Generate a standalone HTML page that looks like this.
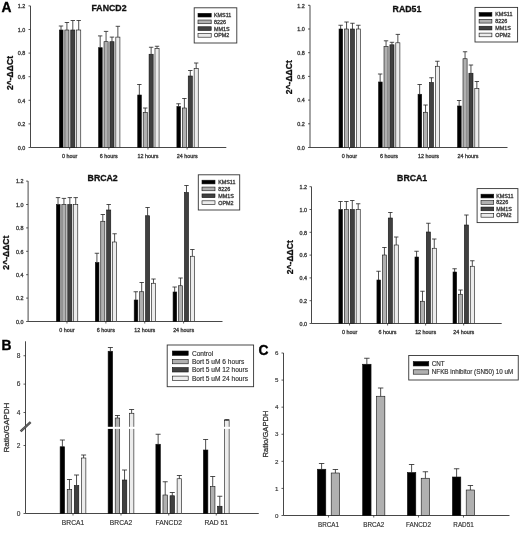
<!DOCTYPE html>
<html><head><meta charset="utf-8"><style>
html,body{margin:0;padding:0;background:#fff;}
svg{display:block;font-family:"Liberation Sans", sans-serif;will-change:transform;}
</style></head><body>
<svg width="520" height="552" viewBox="0 0 520 552">
<rect width="520" height="552" fill="#fff"/>
<line x1="30.50" y1="5.90" x2="30.50" y2="147.50" stroke="#333" stroke-width="0.9"/>
<line x1="30.50" y1="147.50" x2="226.30" y2="147.50" stroke="#333" stroke-width="0.9"/>
<line x1="28.50" y1="147.50" x2="30.50" y2="147.50" stroke="#333" stroke-width="0.8"/>
<text x="25.3" y="149.8" font-size="5.4" text-anchor="end" fill="#222" stroke="#444" stroke-width="0.32">0.0</text>
<line x1="28.50" y1="123.90" x2="30.50" y2="123.90" stroke="#333" stroke-width="0.8"/>
<text x="25.3" y="126.2" font-size="5.4" text-anchor="end" fill="#222" stroke="#444" stroke-width="0.32">0.2</text>
<line x1="28.50" y1="100.30" x2="30.50" y2="100.30" stroke="#333" stroke-width="0.8"/>
<text x="25.3" y="102.6" font-size="5.4" text-anchor="end" fill="#222" stroke="#444" stroke-width="0.32">0.4</text>
<line x1="28.50" y1="76.70" x2="30.50" y2="76.70" stroke="#333" stroke-width="0.8"/>
<text x="25.3" y="79.0" font-size="5.4" text-anchor="end" fill="#222" stroke="#444" stroke-width="0.32">0.6</text>
<line x1="28.50" y1="53.10" x2="30.50" y2="53.10" stroke="#333" stroke-width="0.8"/>
<text x="25.3" y="55.4" font-size="5.4" text-anchor="end" fill="#222" stroke="#444" stroke-width="0.32">0.8</text>
<line x1="28.50" y1="29.50" x2="30.50" y2="29.50" stroke="#333" stroke-width="0.8"/>
<text x="25.3" y="31.8" font-size="5.4" text-anchor="end" fill="#222" stroke="#444" stroke-width="0.32">1.0</text>
<line x1="28.50" y1="5.90" x2="30.50" y2="5.90" stroke="#333" stroke-width="0.8"/>
<text x="25.3" y="8.2" font-size="5.4" text-anchor="end" fill="#222" stroke="#444" stroke-width="0.32">1.2</text>
<line x1="69.66" y1="147.50" x2="69.66" y2="149.50" stroke="#333" stroke-width="0.8"/>
<text x="69.66" y="157.8" font-size="5.4" text-anchor="middle" fill="#222" stroke="#444" stroke-width="0.32">0 hour</text>
<rect x="59.41" y="30.00" width="3.65" height="117.50" fill="#000000" stroke="#111" stroke-width="0.6"/>
<rect x="64.86" y="30.00" width="4.10" height="117.50" fill="#b0b0b0" stroke="#111" stroke-width="0.6"/>
<rect x="70.76" y="30.00" width="4.10" height="117.50" fill="#404040" stroke="#111" stroke-width="0.6"/>
<rect x="76.66" y="30.00" width="4.10" height="117.50" fill="#ececec" stroke="#111" stroke-width="0.6"/>
<line x1="61.01" y1="30.00" x2="61.01" y2="26.00" stroke="#222" stroke-width="0.8"/>
<line x1="58.81" y1="26.00" x2="63.21" y2="26.00" stroke="#222" stroke-width="0.8"/>
<line x1="66.91" y1="30.00" x2="66.91" y2="22.50" stroke="#222" stroke-width="0.8"/>
<line x1="64.71" y1="22.50" x2="69.11" y2="22.50" stroke="#222" stroke-width="0.8"/>
<line x1="72.81" y1="30.00" x2="72.81" y2="20.50" stroke="#222" stroke-width="0.8"/>
<line x1="70.61" y1="20.50" x2="75.01" y2="20.50" stroke="#222" stroke-width="0.8"/>
<line x1="78.71" y1="30.00" x2="78.71" y2="20.50" stroke="#222" stroke-width="0.8"/>
<line x1="76.51" y1="20.50" x2="80.91" y2="20.50" stroke="#222" stroke-width="0.8"/>
<line x1="108.82" y1="147.50" x2="108.82" y2="149.50" stroke="#333" stroke-width="0.8"/>
<text x="108.82" y="157.8" font-size="5.4" text-anchor="middle" fill="#222" stroke="#444" stroke-width="0.32">6 hours</text>
<rect x="98.57" y="47.70" width="3.65" height="99.80" fill="#000000" stroke="#111" stroke-width="0.6"/>
<rect x="104.02" y="41.70" width="4.10" height="105.80" fill="#b0b0b0" stroke="#111" stroke-width="0.6"/>
<rect x="109.92" y="41.70" width="4.10" height="105.80" fill="#404040" stroke="#111" stroke-width="0.6"/>
<rect x="115.82" y="37.10" width="4.10" height="110.40" fill="#ececec" stroke="#111" stroke-width="0.6"/>
<line x1="100.17" y1="47.70" x2="100.17" y2="35.90" stroke="#222" stroke-width="0.8"/>
<line x1="97.97" y1="35.90" x2="102.37" y2="35.90" stroke="#222" stroke-width="0.8"/>
<line x1="106.07" y1="41.70" x2="106.07" y2="31.40" stroke="#222" stroke-width="0.8"/>
<line x1="103.87" y1="31.40" x2="108.27" y2="31.40" stroke="#222" stroke-width="0.8"/>
<line x1="111.97" y1="41.70" x2="111.97" y2="37.10" stroke="#222" stroke-width="0.8"/>
<line x1="109.77" y1="37.10" x2="114.17" y2="37.10" stroke="#222" stroke-width="0.8"/>
<line x1="117.87" y1="37.10" x2="117.87" y2="26.30" stroke="#222" stroke-width="0.8"/>
<line x1="115.67" y1="26.30" x2="120.07" y2="26.30" stroke="#222" stroke-width="0.8"/>
<line x1="147.98" y1="147.50" x2="147.98" y2="149.50" stroke="#333" stroke-width="0.8"/>
<text x="147.98" y="157.8" font-size="5.4" text-anchor="middle" fill="#222" stroke="#444" stroke-width="0.32">12 hours</text>
<rect x="137.73" y="95.00" width="3.65" height="52.50" fill="#000000" stroke="#111" stroke-width="0.6"/>
<rect x="143.18" y="112.50" width="4.10" height="35.00" fill="#b0b0b0" stroke="#111" stroke-width="0.6"/>
<rect x="149.08" y="54.25" width="4.10" height="93.25" fill="#404040" stroke="#111" stroke-width="0.6"/>
<rect x="154.98" y="48.50" width="4.10" height="99.00" fill="#ececec" stroke="#111" stroke-width="0.6"/>
<line x1="139.33" y1="95.00" x2="139.33" y2="84.50" stroke="#222" stroke-width="0.8"/>
<line x1="137.13" y1="84.50" x2="141.53" y2="84.50" stroke="#222" stroke-width="0.8"/>
<line x1="145.23" y1="112.50" x2="145.23" y2="108.00" stroke="#222" stroke-width="0.8"/>
<line x1="143.03" y1="108.00" x2="147.43" y2="108.00" stroke="#222" stroke-width="0.8"/>
<line x1="151.13" y1="54.25" x2="151.13" y2="47.25" stroke="#222" stroke-width="0.8"/>
<line x1="148.93" y1="47.25" x2="153.33" y2="47.25" stroke="#222" stroke-width="0.8"/>
<line x1="157.03" y1="48.50" x2="157.03" y2="46.25" stroke="#222" stroke-width="0.8"/>
<line x1="154.83" y1="46.25" x2="159.23" y2="46.25" stroke="#222" stroke-width="0.8"/>
<line x1="187.14" y1="147.50" x2="187.14" y2="149.50" stroke="#333" stroke-width="0.8"/>
<text x="187.14" y="157.8" font-size="5.4" text-anchor="middle" fill="#222" stroke="#444" stroke-width="0.32">24 hours</text>
<rect x="176.89" y="106.50" width="3.65" height="41.00" fill="#000000" stroke="#111" stroke-width="0.6"/>
<rect x="182.34" y="108.00" width="4.10" height="39.50" fill="#b0b0b0" stroke="#111" stroke-width="0.6"/>
<rect x="188.24" y="76.00" width="4.10" height="71.50" fill="#404040" stroke="#111" stroke-width="0.6"/>
<rect x="194.14" y="68.50" width="4.10" height="79.00" fill="#ececec" stroke="#111" stroke-width="0.6"/>
<line x1="178.49" y1="106.50" x2="178.49" y2="103.75" stroke="#222" stroke-width="0.8"/>
<line x1="176.29" y1="103.75" x2="180.69" y2="103.75" stroke="#222" stroke-width="0.8"/>
<line x1="184.39" y1="108.00" x2="184.39" y2="98.50" stroke="#222" stroke-width="0.8"/>
<line x1="182.19" y1="98.50" x2="186.59" y2="98.50" stroke="#222" stroke-width="0.8"/>
<line x1="190.29" y1="76.00" x2="190.29" y2="70.50" stroke="#222" stroke-width="0.8"/>
<line x1="188.09" y1="70.50" x2="192.49" y2="70.50" stroke="#222" stroke-width="0.8"/>
<line x1="196.19" y1="68.50" x2="196.19" y2="63.00" stroke="#222" stroke-width="0.8"/>
<line x1="193.99" y1="63.00" x2="198.39" y2="63.00" stroke="#222" stroke-width="0.8"/>
<text x="91.5" y="11.1" font-size="8.75" text-anchor="start" font-weight="bold" fill="#111" stroke="#111" stroke-width="0.3">FANCD2</text>
<rect x="194.2" y="7.8" width="42.6" height="35.2" fill="#fff" stroke="#333" stroke-width="0.9"/>
<rect x="198.00" y="13.30" width="13.20" height="3.70" fill="#000000" stroke="#111" stroke-width="0.6"/>
<text x="214.0" y="17.1" font-size="5.4" text-anchor="start" fill="#222" stroke="#444" stroke-width="0.32">KMS11</text>
<rect x="198.00" y="20.03" width="13.20" height="3.70" fill="#b0b0b0" stroke="#111" stroke-width="0.6"/>
<text x="214.0" y="23.83" font-size="5.4" text-anchor="start" fill="#222" stroke="#444" stroke-width="0.32">8226</text>
<rect x="198.00" y="26.76" width="13.20" height="3.70" fill="#404040" stroke="#111" stroke-width="0.6"/>
<text x="214.0" y="30.56" font-size="5.4" text-anchor="start" fill="#222" stroke="#444" stroke-width="0.32">MM1S</text>
<rect x="198.00" y="33.49" width="13.20" height="3.70" fill="#ececec" stroke="#111" stroke-width="0.6"/>
<text x="214.0" y="37.29" font-size="5.4" text-anchor="start" fill="#222" stroke="#444" stroke-width="0.32">OPM2</text>
<text x="13.4" y="73" font-size="8.6" text-anchor="middle" font-weight="bold" fill="#111" transform="rotate(-90 13.4 73)" stroke="#111" stroke-width="0.3">2^-ΔΔCt</text>
<line x1="310.00" y1="5.30" x2="310.00" y2="147.50" stroke="#333" stroke-width="0.9"/>
<line x1="310.00" y1="147.50" x2="507.50" y2="147.50" stroke="#333" stroke-width="0.9"/>
<line x1="308.00" y1="147.50" x2="310.00" y2="147.50" stroke="#333" stroke-width="0.8"/>
<text x="304.7" y="149.8" font-size="5.4" text-anchor="end" fill="#222" stroke="#444" stroke-width="0.32">0.0</text>
<line x1="308.00" y1="123.80" x2="310.00" y2="123.80" stroke="#333" stroke-width="0.8"/>
<text x="304.7" y="126.1" font-size="5.4" text-anchor="end" fill="#222" stroke="#444" stroke-width="0.32">0.2</text>
<line x1="308.00" y1="100.10" x2="310.00" y2="100.10" stroke="#333" stroke-width="0.8"/>
<text x="304.7" y="102.4" font-size="5.4" text-anchor="end" fill="#222" stroke="#444" stroke-width="0.32">0.4</text>
<line x1="308.00" y1="76.40" x2="310.00" y2="76.40" stroke="#333" stroke-width="0.8"/>
<text x="304.7" y="78.7" font-size="5.4" text-anchor="end" fill="#222" stroke="#444" stroke-width="0.32">0.6</text>
<line x1="308.00" y1="52.70" x2="310.00" y2="52.70" stroke="#333" stroke-width="0.8"/>
<text x="304.7" y="55.0" font-size="5.4" text-anchor="end" fill="#222" stroke="#444" stroke-width="0.32">0.8</text>
<line x1="308.00" y1="29.00" x2="310.00" y2="29.00" stroke="#333" stroke-width="0.8"/>
<text x="304.7" y="31.3" font-size="5.4" text-anchor="end" fill="#222" stroke="#444" stroke-width="0.32">1.0</text>
<line x1="308.00" y1="5.30" x2="310.00" y2="5.30" stroke="#333" stroke-width="0.8"/>
<text x="304.7" y="7.6" font-size="5.4" text-anchor="end" fill="#222" stroke="#444" stroke-width="0.32">1.2</text>
<line x1="349.50" y1="147.50" x2="349.50" y2="149.50" stroke="#333" stroke-width="0.8"/>
<text x="349.5" y="157.8" font-size="5.4" text-anchor="middle" fill="#222" stroke="#444" stroke-width="0.32">0 hour</text>
<rect x="339.05" y="29.00" width="3.65" height="118.50" fill="#000000" stroke="#111" stroke-width="0.6"/>
<rect x="344.50" y="29.00" width="4.10" height="118.50" fill="#b0b0b0" stroke="#111" stroke-width="0.6"/>
<rect x="350.40" y="29.00" width="4.10" height="118.50" fill="#404040" stroke="#111" stroke-width="0.6"/>
<rect x="356.30" y="29.00" width="4.10" height="118.50" fill="#ececec" stroke="#111" stroke-width="0.6"/>
<line x1="340.65" y1="29.00" x2="340.65" y2="25.25" stroke="#222" stroke-width="0.8"/>
<line x1="338.45" y1="25.25" x2="342.85" y2="25.25" stroke="#222" stroke-width="0.8"/>
<line x1="346.55" y1="29.00" x2="346.55" y2="22.00" stroke="#222" stroke-width="0.8"/>
<line x1="344.35" y1="22.00" x2="348.75" y2="22.00" stroke="#222" stroke-width="0.8"/>
<line x1="352.45" y1="29.00" x2="352.45" y2="23.25" stroke="#222" stroke-width="0.8"/>
<line x1="350.25" y1="23.25" x2="354.65" y2="23.25" stroke="#222" stroke-width="0.8"/>
<line x1="358.35" y1="29.00" x2="358.35" y2="25.25" stroke="#222" stroke-width="0.8"/>
<line x1="356.15" y1="25.25" x2="360.55" y2="25.25" stroke="#222" stroke-width="0.8"/>
<line x1="389.00" y1="147.50" x2="389.00" y2="149.50" stroke="#333" stroke-width="0.8"/>
<text x="389.0" y="157.8" font-size="5.4" text-anchor="middle" fill="#222" stroke="#444" stroke-width="0.32">6 hours</text>
<rect x="378.55" y="82.00" width="3.65" height="65.50" fill="#000000" stroke="#111" stroke-width="0.6"/>
<rect x="384.00" y="46.50" width="4.10" height="101.00" fill="#b0b0b0" stroke="#111" stroke-width="0.6"/>
<rect x="389.90" y="44.80" width="4.10" height="102.70" fill="#404040" stroke="#111" stroke-width="0.6"/>
<rect x="395.80" y="42.80" width="4.10" height="104.70" fill="#ececec" stroke="#111" stroke-width="0.6"/>
<line x1="380.15" y1="82.00" x2="380.15" y2="74.00" stroke="#222" stroke-width="0.8"/>
<line x1="377.95" y1="74.00" x2="382.35" y2="74.00" stroke="#222" stroke-width="0.8"/>
<line x1="386.05" y1="46.50" x2="386.05" y2="40.80" stroke="#222" stroke-width="0.8"/>
<line x1="383.85" y1="40.80" x2="388.25" y2="40.80" stroke="#222" stroke-width="0.8"/>
<line x1="391.95" y1="44.80" x2="391.95" y2="42.30" stroke="#222" stroke-width="0.8"/>
<line x1="389.75" y1="42.30" x2="394.15" y2="42.30" stroke="#222" stroke-width="0.8"/>
<line x1="397.85" y1="42.80" x2="397.85" y2="34.40" stroke="#222" stroke-width="0.8"/>
<line x1="395.65" y1="34.40" x2="400.05" y2="34.40" stroke="#222" stroke-width="0.8"/>
<line x1="428.50" y1="147.50" x2="428.50" y2="149.50" stroke="#333" stroke-width="0.8"/>
<text x="428.5" y="157.8" font-size="5.4" text-anchor="middle" fill="#222" stroke="#444" stroke-width="0.32">12 hours</text>
<rect x="418.05" y="94.25" width="3.65" height="53.25" fill="#000000" stroke="#111" stroke-width="0.6"/>
<rect x="423.50" y="112.25" width="4.10" height="35.25" fill="#b0b0b0" stroke="#111" stroke-width="0.6"/>
<rect x="429.40" y="82.50" width="4.10" height="65.00" fill="#404040" stroke="#111" stroke-width="0.6"/>
<rect x="435.30" y="66.25" width="4.10" height="81.25" fill="#ececec" stroke="#111" stroke-width="0.6"/>
<line x1="419.65" y1="94.25" x2="419.65" y2="84.50" stroke="#222" stroke-width="0.8"/>
<line x1="417.45" y1="84.50" x2="421.85" y2="84.50" stroke="#222" stroke-width="0.8"/>
<line x1="425.55" y1="112.25" x2="425.55" y2="105.00" stroke="#222" stroke-width="0.8"/>
<line x1="423.35" y1="105.00" x2="427.75" y2="105.00" stroke="#222" stroke-width="0.8"/>
<line x1="431.45" y1="82.50" x2="431.45" y2="77.75" stroke="#222" stroke-width="0.8"/>
<line x1="429.25" y1="77.75" x2="433.65" y2="77.75" stroke="#222" stroke-width="0.8"/>
<line x1="437.35" y1="66.25" x2="437.35" y2="61.25" stroke="#222" stroke-width="0.8"/>
<line x1="435.15" y1="61.25" x2="439.55" y2="61.25" stroke="#222" stroke-width="0.8"/>
<line x1="468.00" y1="147.50" x2="468.00" y2="149.50" stroke="#333" stroke-width="0.8"/>
<text x="468.0" y="157.8" font-size="5.4" text-anchor="middle" fill="#222" stroke="#444" stroke-width="0.32">24 hours</text>
<rect x="457.55" y="106.00" width="3.65" height="41.50" fill="#000000" stroke="#111" stroke-width="0.6"/>
<rect x="463.00" y="58.75" width="4.10" height="88.75" fill="#b0b0b0" stroke="#111" stroke-width="0.6"/>
<rect x="468.90" y="73.25" width="4.10" height="74.25" fill="#404040" stroke="#111" stroke-width="0.6"/>
<rect x="474.80" y="88.50" width="4.10" height="59.00" fill="#ececec" stroke="#111" stroke-width="0.6"/>
<line x1="459.15" y1="106.00" x2="459.15" y2="100.50" stroke="#222" stroke-width="0.8"/>
<line x1="456.95" y1="100.50" x2="461.35" y2="100.50" stroke="#222" stroke-width="0.8"/>
<line x1="465.05" y1="58.75" x2="465.05" y2="51.75" stroke="#222" stroke-width="0.8"/>
<line x1="462.85" y1="51.75" x2="467.25" y2="51.75" stroke="#222" stroke-width="0.8"/>
<line x1="470.95" y1="73.25" x2="470.95" y2="65.00" stroke="#222" stroke-width="0.8"/>
<line x1="468.75" y1="65.00" x2="473.15" y2="65.00" stroke="#222" stroke-width="0.8"/>
<line x1="476.85" y1="88.50" x2="476.85" y2="81.50" stroke="#222" stroke-width="0.8"/>
<line x1="474.65" y1="81.50" x2="479.05" y2="81.50" stroke="#222" stroke-width="0.8"/>
<text x="392.6" y="11.7" font-size="8.75" text-anchor="start" font-weight="bold" fill="#111" stroke="#111" stroke-width="0.3">RAD51</text>
<rect x="475" y="7.4" width="42.6" height="34.6" fill="#fff" stroke="#333" stroke-width="0.9"/>
<rect x="479.10" y="12.50" width="12.80" height="3.70" fill="#000000" stroke="#111" stroke-width="0.6"/>
<text x="495.2" y="16.3" font-size="5.4" text-anchor="start" fill="#222" stroke="#444" stroke-width="0.32">KMS11</text>
<rect x="479.10" y="19.37" width="12.80" height="3.70" fill="#b0b0b0" stroke="#111" stroke-width="0.6"/>
<text x="495.2" y="23.17" font-size="5.4" text-anchor="start" fill="#222" stroke="#444" stroke-width="0.32">8226</text>
<rect x="479.10" y="26.24" width="12.80" height="3.70" fill="#404040" stroke="#111" stroke-width="0.6"/>
<text x="495.2" y="30.04" font-size="5.4" text-anchor="start" fill="#222" stroke="#444" stroke-width="0.32">MM1S</text>
<rect x="479.10" y="33.11" width="12.80" height="3.70" fill="#ececec" stroke="#111" stroke-width="0.6"/>
<text x="495.2" y="36.91" font-size="5.4" text-anchor="start" fill="#222" stroke="#444" stroke-width="0.32">OPM2</text>
<text x="292.2" y="77.2" font-size="8.6" text-anchor="middle" font-weight="bold" fill="#111" transform="rotate(-90 292.2 77.2)" stroke="#111" stroke-width="0.3">2^-ΔΔCt</text>
<line x1="28.10" y1="181.10" x2="28.10" y2="321.50" stroke="#333" stroke-width="0.9"/>
<line x1="28.10" y1="321.50" x2="222.50" y2="321.50" stroke="#333" stroke-width="0.9"/>
<line x1="26.10" y1="321.50" x2="28.10" y2="321.50" stroke="#333" stroke-width="0.8"/>
<text x="23.6" y="323.8" font-size="5.4" text-anchor="end" fill="#222" stroke="#444" stroke-width="0.32">0.0</text>
<line x1="26.10" y1="298.10" x2="28.10" y2="298.10" stroke="#333" stroke-width="0.8"/>
<text x="23.6" y="300.4" font-size="5.4" text-anchor="end" fill="#222" stroke="#444" stroke-width="0.32">0.2</text>
<line x1="26.10" y1="274.70" x2="28.10" y2="274.70" stroke="#333" stroke-width="0.8"/>
<text x="23.6" y="277.0" font-size="5.4" text-anchor="end" fill="#222" stroke="#444" stroke-width="0.32">0.4</text>
<line x1="26.10" y1="251.30" x2="28.10" y2="251.30" stroke="#333" stroke-width="0.8"/>
<text x="23.6" y="253.6" font-size="5.4" text-anchor="end" fill="#222" stroke="#444" stroke-width="0.32">0.6</text>
<line x1="26.10" y1="227.90" x2="28.10" y2="227.90" stroke="#333" stroke-width="0.8"/>
<text x="23.6" y="230.2" font-size="5.4" text-anchor="end" fill="#222" stroke="#444" stroke-width="0.32">0.8</text>
<line x1="26.10" y1="204.50" x2="28.10" y2="204.50" stroke="#333" stroke-width="0.8"/>
<text x="23.6" y="206.8" font-size="5.4" text-anchor="end" fill="#222" stroke="#444" stroke-width="0.32">1.0</text>
<line x1="26.10" y1="181.10" x2="28.10" y2="181.10" stroke="#333" stroke-width="0.8"/>
<text x="23.6" y="183.4" font-size="5.4" text-anchor="end" fill="#222" stroke="#444" stroke-width="0.32">1.2</text>
<line x1="66.98" y1="321.50" x2="66.98" y2="323.50" stroke="#333" stroke-width="0.8"/>
<text x="66.98" y="331.8" font-size="5.4" text-anchor="middle" fill="#222" stroke="#444" stroke-width="0.32">0 hour</text>
<rect x="56.43" y="204.50" width="3.65" height="117.00" fill="#000000" stroke="#111" stroke-width="0.6"/>
<rect x="61.88" y="204.50" width="4.10" height="117.00" fill="#b0b0b0" stroke="#111" stroke-width="0.6"/>
<rect x="67.78" y="204.50" width="4.10" height="117.00" fill="#404040" stroke="#111" stroke-width="0.6"/>
<rect x="73.68" y="204.50" width="4.10" height="117.00" fill="#ececec" stroke="#111" stroke-width="0.6"/>
<line x1="58.03" y1="204.50" x2="58.03" y2="197.60" stroke="#222" stroke-width="0.8"/>
<line x1="55.83" y1="197.60" x2="60.23" y2="197.60" stroke="#222" stroke-width="0.8"/>
<line x1="63.93" y1="204.50" x2="63.93" y2="198.40" stroke="#222" stroke-width="0.8"/>
<line x1="61.73" y1="198.40" x2="66.13" y2="198.40" stroke="#222" stroke-width="0.8"/>
<line x1="69.83" y1="204.50" x2="69.83" y2="197.60" stroke="#222" stroke-width="0.8"/>
<line x1="67.63" y1="197.60" x2="72.03" y2="197.60" stroke="#222" stroke-width="0.8"/>
<line x1="75.73" y1="204.50" x2="75.73" y2="197.60" stroke="#222" stroke-width="0.8"/>
<line x1="73.53" y1="197.60" x2="77.93" y2="197.60" stroke="#222" stroke-width="0.8"/>
<line x1="105.86" y1="321.50" x2="105.86" y2="323.50" stroke="#333" stroke-width="0.8"/>
<text x="105.86" y="331.8" font-size="5.4" text-anchor="middle" fill="#222" stroke="#444" stroke-width="0.32">6 hours</text>
<rect x="95.31" y="262.50" width="3.65" height="59.00" fill="#000000" stroke="#111" stroke-width="0.6"/>
<rect x="100.76" y="221.25" width="4.10" height="100.25" fill="#b0b0b0" stroke="#111" stroke-width="0.6"/>
<rect x="106.66" y="210.00" width="4.10" height="111.50" fill="#404040" stroke="#111" stroke-width="0.6"/>
<rect x="112.56" y="242.00" width="4.10" height="79.50" fill="#ececec" stroke="#111" stroke-width="0.6"/>
<line x1="96.91" y1="262.50" x2="96.91" y2="253.25" stroke="#222" stroke-width="0.8"/>
<line x1="94.71" y1="253.25" x2="99.11" y2="253.25" stroke="#222" stroke-width="0.8"/>
<line x1="102.81" y1="221.25" x2="102.81" y2="214.50" stroke="#222" stroke-width="0.8"/>
<line x1="100.61" y1="214.50" x2="105.01" y2="214.50" stroke="#222" stroke-width="0.8"/>
<line x1="108.71" y1="210.00" x2="108.71" y2="204.50" stroke="#222" stroke-width="0.8"/>
<line x1="106.51" y1="204.50" x2="110.91" y2="204.50" stroke="#222" stroke-width="0.8"/>
<line x1="114.61" y1="242.00" x2="114.61" y2="233.75" stroke="#222" stroke-width="0.8"/>
<line x1="112.41" y1="233.75" x2="116.81" y2="233.75" stroke="#222" stroke-width="0.8"/>
<line x1="144.74" y1="321.50" x2="144.74" y2="323.50" stroke="#333" stroke-width="0.8"/>
<text x="144.74" y="331.8" font-size="5.4" text-anchor="middle" fill="#222" stroke="#444" stroke-width="0.32">12 hours</text>
<rect x="134.19" y="300.00" width="3.65" height="21.50" fill="#000000" stroke="#111" stroke-width="0.6"/>
<rect x="139.64" y="291.75" width="4.10" height="29.75" fill="#b0b0b0" stroke="#111" stroke-width="0.6"/>
<rect x="145.54" y="215.75" width="4.10" height="105.75" fill="#404040" stroke="#111" stroke-width="0.6"/>
<rect x="151.44" y="283.25" width="4.10" height="38.25" fill="#ececec" stroke="#111" stroke-width="0.6"/>
<line x1="135.79" y1="300.00" x2="135.79" y2="291.75" stroke="#222" stroke-width="0.8"/>
<line x1="133.59" y1="291.75" x2="137.99" y2="291.75" stroke="#222" stroke-width="0.8"/>
<line x1="141.69" y1="291.75" x2="141.69" y2="282.50" stroke="#222" stroke-width="0.8"/>
<line x1="139.49" y1="282.50" x2="143.89" y2="282.50" stroke="#222" stroke-width="0.8"/>
<line x1="147.59" y1="215.75" x2="147.59" y2="207.50" stroke="#222" stroke-width="0.8"/>
<line x1="145.39" y1="207.50" x2="149.79" y2="207.50" stroke="#222" stroke-width="0.8"/>
<line x1="153.49" y1="283.25" x2="153.49" y2="279.00" stroke="#222" stroke-width="0.8"/>
<line x1="151.29" y1="279.00" x2="155.69" y2="279.00" stroke="#222" stroke-width="0.8"/>
<line x1="183.62" y1="321.50" x2="183.62" y2="323.50" stroke="#333" stroke-width="0.8"/>
<text x="183.62" y="331.8" font-size="5.4" text-anchor="middle" fill="#222" stroke="#444" stroke-width="0.32">24 hours</text>
<rect x="173.07" y="292.00" width="3.65" height="29.50" fill="#000000" stroke="#111" stroke-width="0.6"/>
<rect x="178.52" y="285.75" width="4.10" height="35.75" fill="#b0b0b0" stroke="#111" stroke-width="0.6"/>
<rect x="184.42" y="192.50" width="4.10" height="129.00" fill="#404040" stroke="#111" stroke-width="0.6"/>
<rect x="190.32" y="256.25" width="4.10" height="65.25" fill="#ececec" stroke="#111" stroke-width="0.6"/>
<line x1="174.67" y1="292.00" x2="174.67" y2="287.00" stroke="#222" stroke-width="0.8"/>
<line x1="172.47" y1="287.00" x2="176.87" y2="287.00" stroke="#222" stroke-width="0.8"/>
<line x1="180.57" y1="285.75" x2="180.57" y2="278.00" stroke="#222" stroke-width="0.8"/>
<line x1="178.37" y1="278.00" x2="182.77" y2="278.00" stroke="#222" stroke-width="0.8"/>
<line x1="186.47" y1="192.50" x2="186.47" y2="185.50" stroke="#222" stroke-width="0.8"/>
<line x1="184.27" y1="185.50" x2="188.67" y2="185.50" stroke="#222" stroke-width="0.8"/>
<line x1="192.37" y1="256.25" x2="192.37" y2="249.50" stroke="#222" stroke-width="0.8"/>
<line x1="190.17" y1="249.50" x2="194.57" y2="249.50" stroke="#222" stroke-width="0.8"/>
<text x="87.6" y="181.1" font-size="8.75" text-anchor="start" font-weight="bold" fill="#111" stroke="#111" stroke-width="0.3">BRCA2</text>
<rect x="198.3" y="174.8" width="41.4" height="35.2" fill="#fff" stroke="#333" stroke-width="0.9"/>
<rect x="202.00" y="180.20" width="13.00" height="3.70" fill="#000000" stroke="#111" stroke-width="0.6"/>
<text x="218.2" y="184.0" font-size="5.4" text-anchor="start" fill="#222" stroke="#444" stroke-width="0.32">KMS11</text>
<rect x="202.00" y="187.07" width="13.00" height="3.70" fill="#b0b0b0" stroke="#111" stroke-width="0.6"/>
<text x="218.2" y="190.87" font-size="5.4" text-anchor="start" fill="#222" stroke="#444" stroke-width="0.32">8226</text>
<rect x="202.00" y="193.94" width="13.00" height="3.70" fill="#404040" stroke="#111" stroke-width="0.6"/>
<text x="218.2" y="197.74" font-size="5.4" text-anchor="start" fill="#222" stroke="#444" stroke-width="0.32">MM1S</text>
<rect x="202.00" y="200.81" width="13.00" height="3.70" fill="#ececec" stroke="#111" stroke-width="0.6"/>
<text x="218.2" y="204.61" font-size="5.4" text-anchor="start" fill="#222" stroke="#444" stroke-width="0.32">OPM2</text>
<text x="9" y="252.6" font-size="8.6" text-anchor="middle" font-weight="bold" fill="#111" transform="rotate(-90 9 252.6)" stroke="#111" stroke-width="0.3">2^-ΔΔCt</text>
<line x1="311.50" y1="186.70" x2="311.50" y2="323.50" stroke="#333" stroke-width="0.9"/>
<line x1="311.50" y1="323.50" x2="501.70" y2="323.50" stroke="#333" stroke-width="0.9"/>
<line x1="309.50" y1="323.50" x2="311.50" y2="323.50" stroke="#333" stroke-width="0.8"/>
<text x="306.9" y="325.8" font-size="5.4" text-anchor="end" fill="#222" stroke="#444" stroke-width="0.32">0.0</text>
<line x1="309.50" y1="300.70" x2="311.50" y2="300.70" stroke="#333" stroke-width="0.8"/>
<text x="306.9" y="303.0" font-size="5.4" text-anchor="end" fill="#222" stroke="#444" stroke-width="0.32">0.2</text>
<line x1="309.50" y1="277.90" x2="311.50" y2="277.90" stroke="#333" stroke-width="0.8"/>
<text x="306.9" y="280.2" font-size="5.4" text-anchor="end" fill="#222" stroke="#444" stroke-width="0.32">0.4</text>
<line x1="309.50" y1="255.10" x2="311.50" y2="255.10" stroke="#333" stroke-width="0.8"/>
<text x="306.9" y="257.4" font-size="5.4" text-anchor="end" fill="#222" stroke="#444" stroke-width="0.32">0.6</text>
<line x1="309.50" y1="232.30" x2="311.50" y2="232.30" stroke="#333" stroke-width="0.8"/>
<text x="306.9" y="234.6" font-size="5.4" text-anchor="end" fill="#222" stroke="#444" stroke-width="0.32">0.8</text>
<line x1="309.50" y1="209.50" x2="311.50" y2="209.50" stroke="#333" stroke-width="0.8"/>
<text x="306.9" y="211.8" font-size="5.4" text-anchor="end" fill="#222" stroke="#444" stroke-width="0.32">1.0</text>
<line x1="309.50" y1="186.70" x2="311.50" y2="186.70" stroke="#333" stroke-width="0.8"/>
<text x="306.9" y="189.0" font-size="5.4" text-anchor="end" fill="#222" stroke="#444" stroke-width="0.32">1.2</text>
<line x1="349.54" y1="323.50" x2="349.54" y2="325.50" stroke="#333" stroke-width="0.8"/>
<text x="349.54" y="333.8" font-size="5.4" text-anchor="middle" fill="#222" stroke="#444" stroke-width="0.32">0 hour</text>
<rect x="338.89" y="209.50" width="3.65" height="114.00" fill="#000000" stroke="#111" stroke-width="0.6"/>
<rect x="344.34" y="209.50" width="4.10" height="114.00" fill="#b0b0b0" stroke="#111" stroke-width="0.6"/>
<rect x="350.24" y="209.50" width="4.10" height="114.00" fill="#404040" stroke="#111" stroke-width="0.6"/>
<rect x="356.14" y="209.50" width="4.10" height="114.00" fill="#ececec" stroke="#111" stroke-width="0.6"/>
<line x1="340.49" y1="209.50" x2="340.49" y2="201.50" stroke="#222" stroke-width="0.8"/>
<line x1="338.29" y1="201.50" x2="342.69" y2="201.50" stroke="#222" stroke-width="0.8"/>
<line x1="346.39" y1="209.50" x2="346.39" y2="201.50" stroke="#222" stroke-width="0.8"/>
<line x1="344.19" y1="201.50" x2="348.59" y2="201.50" stroke="#222" stroke-width="0.8"/>
<line x1="352.29" y1="209.50" x2="352.29" y2="200.50" stroke="#222" stroke-width="0.8"/>
<line x1="350.09" y1="200.50" x2="354.49" y2="200.50" stroke="#222" stroke-width="0.8"/>
<line x1="358.19" y1="209.50" x2="358.19" y2="203.75" stroke="#222" stroke-width="0.8"/>
<line x1="355.99" y1="203.75" x2="360.39" y2="203.75" stroke="#222" stroke-width="0.8"/>
<line x1="387.58" y1="323.50" x2="387.58" y2="325.50" stroke="#333" stroke-width="0.8"/>
<text x="387.58" y="333.8" font-size="5.4" text-anchor="middle" fill="#222" stroke="#444" stroke-width="0.32">6 hours</text>
<rect x="376.93" y="280.00" width="3.65" height="43.50" fill="#000000" stroke="#111" stroke-width="0.6"/>
<rect x="382.38" y="255.00" width="4.10" height="68.50" fill="#b0b0b0" stroke="#111" stroke-width="0.6"/>
<rect x="388.28" y="218.00" width="4.10" height="105.50" fill="#404040" stroke="#111" stroke-width="0.6"/>
<rect x="394.18" y="245.00" width="4.10" height="78.50" fill="#ececec" stroke="#111" stroke-width="0.6"/>
<line x1="378.53" y1="280.00" x2="378.53" y2="271.25" stroke="#222" stroke-width="0.8"/>
<line x1="376.33" y1="271.25" x2="380.73" y2="271.25" stroke="#222" stroke-width="0.8"/>
<line x1="384.43" y1="255.00" x2="384.43" y2="247.50" stroke="#222" stroke-width="0.8"/>
<line x1="382.23" y1="247.50" x2="386.63" y2="247.50" stroke="#222" stroke-width="0.8"/>
<line x1="390.33" y1="218.00" x2="390.33" y2="212.50" stroke="#222" stroke-width="0.8"/>
<line x1="388.13" y1="212.50" x2="392.53" y2="212.50" stroke="#222" stroke-width="0.8"/>
<line x1="396.23" y1="245.00" x2="396.23" y2="237.00" stroke="#222" stroke-width="0.8"/>
<line x1="394.03" y1="237.00" x2="398.43" y2="237.00" stroke="#222" stroke-width="0.8"/>
<line x1="425.62" y1="323.50" x2="425.62" y2="325.50" stroke="#333" stroke-width="0.8"/>
<text x="425.62" y="333.8" font-size="5.4" text-anchor="middle" fill="#222" stroke="#444" stroke-width="0.32">12 hours</text>
<rect x="414.97" y="257.00" width="3.65" height="66.50" fill="#000000" stroke="#111" stroke-width="0.6"/>
<rect x="420.42" y="301.25" width="4.10" height="22.25" fill="#b0b0b0" stroke="#111" stroke-width="0.6"/>
<rect x="426.32" y="232.00" width="4.10" height="91.50" fill="#404040" stroke="#111" stroke-width="0.6"/>
<rect x="432.22" y="248.25" width="4.10" height="75.25" fill="#ececec" stroke="#111" stroke-width="0.6"/>
<line x1="416.57" y1="257.00" x2="416.57" y2="251.25" stroke="#222" stroke-width="0.8"/>
<line x1="414.37" y1="251.25" x2="418.77" y2="251.25" stroke="#222" stroke-width="0.8"/>
<line x1="422.47" y1="301.25" x2="422.47" y2="291.25" stroke="#222" stroke-width="0.8"/>
<line x1="420.27" y1="291.25" x2="424.67" y2="291.25" stroke="#222" stroke-width="0.8"/>
<line x1="428.37" y1="232.00" x2="428.37" y2="223.25" stroke="#222" stroke-width="0.8"/>
<line x1="426.17" y1="223.25" x2="430.57" y2="223.25" stroke="#222" stroke-width="0.8"/>
<line x1="434.27" y1="248.25" x2="434.27" y2="239.00" stroke="#222" stroke-width="0.8"/>
<line x1="432.07" y1="239.00" x2="436.47" y2="239.00" stroke="#222" stroke-width="0.8"/>
<line x1="463.66" y1="323.50" x2="463.66" y2="325.50" stroke="#333" stroke-width="0.8"/>
<text x="463.66" y="333.8" font-size="5.4" text-anchor="middle" fill="#222" stroke="#444" stroke-width="0.32">24 hours</text>
<rect x="453.01" y="272.00" width="3.65" height="51.50" fill="#000000" stroke="#111" stroke-width="0.6"/>
<rect x="458.46" y="294.25" width="4.10" height="29.25" fill="#b0b0b0" stroke="#111" stroke-width="0.6"/>
<rect x="464.36" y="225.00" width="4.10" height="98.50" fill="#404040" stroke="#111" stroke-width="0.6"/>
<rect x="470.26" y="266.25" width="4.10" height="57.25" fill="#ececec" stroke="#111" stroke-width="0.6"/>
<line x1="454.61" y1="272.00" x2="454.61" y2="268.75" stroke="#222" stroke-width="0.8"/>
<line x1="452.41" y1="268.75" x2="456.81" y2="268.75" stroke="#222" stroke-width="0.8"/>
<line x1="460.51" y1="294.25" x2="460.51" y2="290.00" stroke="#222" stroke-width="0.8"/>
<line x1="458.31" y1="290.00" x2="462.71" y2="290.00" stroke="#222" stroke-width="0.8"/>
<line x1="466.41" y1="225.00" x2="466.41" y2="215.00" stroke="#222" stroke-width="0.8"/>
<line x1="464.21" y1="215.00" x2="468.61" y2="215.00" stroke="#222" stroke-width="0.8"/>
<line x1="472.31" y1="266.25" x2="472.31" y2="260.75" stroke="#222" stroke-width="0.8"/>
<line x1="470.11" y1="260.75" x2="474.51" y2="260.75" stroke="#222" stroke-width="0.8"/>
<text x="397.1" y="181.4" font-size="8.75" text-anchor="start" font-weight="bold" fill="#111" stroke="#111" stroke-width="0.3">BRCA1</text>
<rect x="477.1" y="188.6" width="40.8" height="34" fill="#fff" stroke="#333" stroke-width="0.9"/>
<rect x="481.00" y="194.20" width="12.70" height="3.70" fill="#000000" stroke="#111" stroke-width="0.6"/>
<text x="496.2" y="198.0" font-size="5.4" text-anchor="start" fill="#222" stroke="#444" stroke-width="0.32">KMS11</text>
<rect x="481.00" y="200.63" width="12.70" height="3.70" fill="#b0b0b0" stroke="#111" stroke-width="0.6"/>
<text x="496.2" y="204.43" font-size="5.4" text-anchor="start" fill="#222" stroke="#444" stroke-width="0.32">8226</text>
<rect x="481.00" y="207.06" width="12.70" height="3.70" fill="#404040" stroke="#111" stroke-width="0.6"/>
<text x="496.2" y="210.86" font-size="5.4" text-anchor="start" fill="#222" stroke="#444" stroke-width="0.32">MM1S</text>
<rect x="481.00" y="213.49" width="12.70" height="3.70" fill="#ececec" stroke="#111" stroke-width="0.6"/>
<text x="496.2" y="217.29" font-size="5.4" text-anchor="start" fill="#222" stroke="#444" stroke-width="0.32">OPM2</text>
<text x="292.6" y="257.2" font-size="8.6" text-anchor="middle" font-weight="bold" fill="#111" transform="rotate(-90 292.6 257.2)" stroke="#111" stroke-width="0.3">2^-ΔΔCt</text>
<text x="1.6" y="11.8" font-size="13.8" text-anchor="start" font-weight="bold" fill="#000" stroke="#000" stroke-width="0.35">A</text>
<text x="1.4" y="350.3" font-size="13.8" text-anchor="start" font-weight="bold" fill="#000" stroke="#000" stroke-width="0.35">B</text>
<text x="258.6" y="354.6" font-size="13.8" text-anchor="start" font-weight="bold" fill="#000" stroke="#000" stroke-width="0.35">C</text>
<line x1="25.50" y1="341.30" x2="25.50" y2="513.50" stroke="#333" stroke-width="0.9"/>
<line x1="25.50" y1="513.50" x2="258.75" y2="513.50" stroke="#333" stroke-width="0.9"/>
<line x1="23.50" y1="513.50" x2="25.50" y2="513.50" stroke="#333" stroke-width="0.8"/>
<text x="20.5" y="515.8" font-size="6.6" text-anchor="end" fill="#222" stroke="#555" stroke-width="0.18">0</text>
<line x1="23.50" y1="445.50" x2="25.50" y2="445.50" stroke="#333" stroke-width="0.8"/>
<text x="20.5" y="447.8" font-size="6.6" text-anchor="end" fill="#222" stroke="#555" stroke-width="0.18">2</text>
<line x1="23.50" y1="412.50" x2="25.50" y2="412.50" stroke="#333" stroke-width="0.8"/>
<text x="20.5" y="414.8" font-size="6.6" text-anchor="end" fill="#222" stroke="#555" stroke-width="0.18">4</text>
<line x1="23.50" y1="384.12" x2="25.50" y2="384.12" stroke="#333" stroke-width="0.8"/>
<text x="20.5" y="386.42" font-size="6.6" text-anchor="end" fill="#222" stroke="#555" stroke-width="0.18">6</text>
<line x1="23.50" y1="355.74" x2="25.50" y2="355.74" stroke="#333" stroke-width="0.8"/>
<text x="20.5" y="358.04" font-size="6.6" text-anchor="end" fill="#222" stroke="#555" stroke-width="0.18">8</text>
<line x1="73.00" y1="513.50" x2="73.00" y2="515.50" stroke="#333" stroke-width="0.8"/>
<text x="73" y="524.8" font-size="6.7" text-anchor="middle" fill="#222" stroke="#555" stroke-width="0.18">BRCA1</text>
<rect x="60.13" y="446.75" width="4.50" height="66.75" fill="#000000" stroke="#111" stroke-width="0.6"/>
<rect x="67.21" y="489.50" width="4.50" height="24.00" fill="#b0b0b0" stroke="#111" stroke-width="0.6"/>
<rect x="74.29" y="485.50" width="4.50" height="28.00" fill="#404040" stroke="#111" stroke-width="0.6"/>
<rect x="81.37" y="458.00" width="4.50" height="55.50" fill="#ececec" stroke="#111" stroke-width="0.6"/>
<line x1="62.38" y1="446.75" x2="62.38" y2="440.00" stroke="#222" stroke-width="0.8"/>
<line x1="59.88" y1="440.00" x2="64.88" y2="440.00" stroke="#222" stroke-width="0.8"/>
<line x1="69.46" y1="489.50" x2="69.46" y2="479.50" stroke="#222" stroke-width="0.8"/>
<line x1="66.96" y1="479.50" x2="71.96" y2="479.50" stroke="#222" stroke-width="0.8"/>
<line x1="76.54" y1="485.50" x2="76.54" y2="475.00" stroke="#222" stroke-width="0.8"/>
<line x1="74.04" y1="475.00" x2="79.04" y2="475.00" stroke="#222" stroke-width="0.8"/>
<line x1="83.62" y1="458.00" x2="83.62" y2="455.00" stroke="#222" stroke-width="0.8"/>
<line x1="81.12" y1="455.00" x2="86.12" y2="455.00" stroke="#222" stroke-width="0.8"/>
<line x1="121.00" y1="513.50" x2="121.00" y2="515.50" stroke="#333" stroke-width="0.8"/>
<text x="121" y="524.8" font-size="6.7" text-anchor="middle" fill="#222" stroke="#555" stroke-width="0.18">BRCA2</text>
<rect x="108.13" y="351.25" width="4.50" height="162.25" fill="#000000" stroke="#111" stroke-width="0.6"/>
<rect x="115.21" y="418.00" width="4.50" height="95.50" fill="#b0b0b0" stroke="#111" stroke-width="0.6"/>
<rect x="122.29" y="480.00" width="4.50" height="33.50" fill="#404040" stroke="#111" stroke-width="0.6"/>
<rect x="129.37" y="413.25" width="4.50" height="100.25" fill="#ececec" stroke="#111" stroke-width="0.6"/>
<line x1="110.38" y1="351.25" x2="110.38" y2="347.50" stroke="#222" stroke-width="0.8"/>
<line x1="107.88" y1="347.50" x2="112.88" y2="347.50" stroke="#222" stroke-width="0.8"/>
<line x1="117.46" y1="418.00" x2="117.46" y2="415.50" stroke="#222" stroke-width="0.8"/>
<line x1="114.96" y1="415.50" x2="119.96" y2="415.50" stroke="#222" stroke-width="0.8"/>
<line x1="124.54" y1="480.00" x2="124.54" y2="470.00" stroke="#222" stroke-width="0.8"/>
<line x1="122.04" y1="470.00" x2="127.04" y2="470.00" stroke="#222" stroke-width="0.8"/>
<line x1="131.62" y1="413.25" x2="131.62" y2="409.50" stroke="#222" stroke-width="0.8"/>
<line x1="129.12" y1="409.50" x2="134.12" y2="409.50" stroke="#222" stroke-width="0.8"/>
<line x1="168.75" y1="513.50" x2="168.75" y2="515.50" stroke="#333" stroke-width="0.8"/>
<text x="168.75" y="524.8" font-size="6.7" text-anchor="middle" fill="#222" stroke="#555" stroke-width="0.18">FANCD2</text>
<rect x="155.88" y="444.25" width="4.50" height="69.25" fill="#000000" stroke="#111" stroke-width="0.6"/>
<rect x="162.96" y="495.00" width="4.50" height="18.50" fill="#b0b0b0" stroke="#111" stroke-width="0.6"/>
<rect x="170.04" y="495.75" width="4.50" height="17.75" fill="#404040" stroke="#111" stroke-width="0.6"/>
<rect x="177.12" y="478.75" width="4.50" height="34.75" fill="#ececec" stroke="#111" stroke-width="0.6"/>
<line x1="158.13" y1="444.25" x2="158.13" y2="434.25" stroke="#222" stroke-width="0.8"/>
<line x1="155.63" y1="434.25" x2="160.63" y2="434.25" stroke="#222" stroke-width="0.8"/>
<line x1="165.21" y1="495.00" x2="165.21" y2="481.75" stroke="#222" stroke-width="0.8"/>
<line x1="162.71" y1="481.75" x2="167.71" y2="481.75" stroke="#222" stroke-width="0.8"/>
<line x1="172.29" y1="495.75" x2="172.29" y2="492.50" stroke="#222" stroke-width="0.8"/>
<line x1="169.79" y1="492.50" x2="174.79" y2="492.50" stroke="#222" stroke-width="0.8"/>
<line x1="179.37" y1="478.75" x2="179.37" y2="475.50" stroke="#222" stroke-width="0.8"/>
<line x1="176.87" y1="475.50" x2="181.87" y2="475.50" stroke="#222" stroke-width="0.8"/>
<line x1="216.25" y1="513.50" x2="216.25" y2="515.50" stroke="#333" stroke-width="0.8"/>
<text x="216.25" y="524.8" font-size="6.7" text-anchor="middle" fill="#222" stroke="#555" stroke-width="0.18">RAD 51</text>
<rect x="203.38" y="450.00" width="4.50" height="63.50" fill="#000000" stroke="#111" stroke-width="0.6"/>
<rect x="210.46" y="486.50" width="4.50" height="27.00" fill="#b0b0b0" stroke="#111" stroke-width="0.6"/>
<rect x="217.54" y="506.25" width="4.50" height="7.25" fill="#404040" stroke="#111" stroke-width="0.6"/>
<rect x="224.62" y="420.50" width="4.50" height="93.00" fill="#ececec" stroke="#111" stroke-width="0.6"/>
<line x1="205.63" y1="450.00" x2="205.63" y2="439.50" stroke="#222" stroke-width="0.8"/>
<line x1="203.13" y1="439.50" x2="208.13" y2="439.50" stroke="#222" stroke-width="0.8"/>
<line x1="212.71" y1="486.50" x2="212.71" y2="476.50" stroke="#222" stroke-width="0.8"/>
<line x1="210.21" y1="476.50" x2="215.21" y2="476.50" stroke="#222" stroke-width="0.8"/>
<line x1="219.79" y1="506.25" x2="219.79" y2="496.25" stroke="#222" stroke-width="0.8"/>
<line x1="217.29" y1="496.25" x2="222.29" y2="496.25" stroke="#222" stroke-width="0.8"/>
<line x1="226.87" y1="420.50" x2="226.87" y2="419.50" stroke="#222" stroke-width="0.8"/>
<line x1="224.37" y1="419.50" x2="229.37" y2="419.50" stroke="#222" stroke-width="0.8"/>
<rect x="26.5" y="426.8" width="232.25" height="2.1" fill="#fff"/>
<line x1="20.6" y1="431.3" x2="30.6" y2="422.1" stroke="#4a4a4a" stroke-width="2.5"/>
<line x1="20.9" y1="431.1" x2="30.3" y2="422.4" stroke="#8a8a8a" stroke-width="0.5"/>
<rect x="167.2" y="345.0" width="86.4" height="41.7" fill="#fff" stroke="#333" stroke-width="0.9"/>
<rect x="172.30" y="351.00" width="15.90" height="4.40" fill="#000000" stroke="#111" stroke-width="0.6"/>
<text x="191.9" y="355.5" font-size="6.6" text-anchor="start" fill="#222" stroke="#555" stroke-width="0.18">Control</text>
<rect x="172.30" y="359.40" width="15.90" height="4.40" fill="#b0b0b0" stroke="#111" stroke-width="0.6"/>
<text x="191.9" y="363.9" font-size="6.6" text-anchor="start" fill="#222" stroke="#555" stroke-width="0.18">Bort 5 uM 6 hours</text>
<rect x="172.30" y="367.60" width="15.90" height="4.40" fill="#404040" stroke="#111" stroke-width="0.6"/>
<text x="191.9" y="372.1" font-size="6.6" text-anchor="start" fill="#222" stroke="#555" stroke-width="0.18">Bort 5 uM 12 hours</text>
<rect x="172.30" y="376.10" width="15.90" height="4.40" fill="#ececec" stroke="#111" stroke-width="0.6"/>
<text x="191.9" y="380.6" font-size="6.6" text-anchor="start" fill="#222" stroke="#555" stroke-width="0.18">Bort 5 uM 24 hours</text>
<text x="8.6" y="427.6" font-size="8.1" text-anchor="middle" fill="#222" transform="rotate(-90 8.6 427.6)" stroke="#444" stroke-width="0.32">Ratio/GAPDH</text>
<line x1="283.50" y1="353.00" x2="283.50" y2="515.50" stroke="#333" stroke-width="0.9"/>
<line x1="283.50" y1="515.50" x2="509.50" y2="515.50" stroke="#333" stroke-width="0.9"/>
<line x1="281.50" y1="515.50" x2="283.50" y2="515.50" stroke="#333" stroke-width="0.8"/>
<text x="278.5" y="517.7" font-size="6.2" text-anchor="end" fill="#222" stroke="#555" stroke-width="0.18">0</text>
<line x1="281.50" y1="488.42" x2="283.50" y2="488.42" stroke="#333" stroke-width="0.8"/>
<text x="278.5" y="490.62" font-size="6.2" text-anchor="end" fill="#222" stroke="#555" stroke-width="0.18">1</text>
<line x1="281.50" y1="461.33" x2="283.50" y2="461.33" stroke="#333" stroke-width="0.8"/>
<text x="278.5" y="463.53" font-size="6.2" text-anchor="end" fill="#222" stroke="#555" stroke-width="0.18">2</text>
<line x1="281.50" y1="434.25" x2="283.50" y2="434.25" stroke="#333" stroke-width="0.8"/>
<text x="278.5" y="436.45" font-size="6.2" text-anchor="end" fill="#222" stroke="#555" stroke-width="0.18">3</text>
<line x1="281.50" y1="407.17" x2="283.50" y2="407.17" stroke="#333" stroke-width="0.8"/>
<text x="278.5" y="409.37" font-size="6.2" text-anchor="end" fill="#222" stroke="#555" stroke-width="0.18">4</text>
<line x1="281.50" y1="380.08" x2="283.50" y2="380.08" stroke="#333" stroke-width="0.8"/>
<text x="278.5" y="382.28" font-size="6.2" text-anchor="end" fill="#222" stroke="#555" stroke-width="0.18">5</text>
<line x1="281.50" y1="353.00" x2="283.50" y2="353.00" stroke="#333" stroke-width="0.8"/>
<text x="278.5" y="355.2" font-size="6.2" text-anchor="end" fill="#222" stroke="#555" stroke-width="0.18">6</text>
<line x1="328.50" y1="515.50" x2="328.50" y2="517.50" stroke="#333" stroke-width="0.8"/>
<text x="328.5" y="527.0" font-size="6.3" text-anchor="middle" fill="#222" stroke="#555" stroke-width="0.18">BRCA1</text>
<rect x="317.40" y="469.25" width="8.40" height="46.25" fill="#000000" stroke="#111" stroke-width="0.6"/>
<rect x="331.20" y="473.00" width="8.40" height="42.50" fill="#b0b0b0" stroke="#111" stroke-width="0.6"/>
<line x1="321.60" y1="469.25" x2="321.60" y2="463.50" stroke="#222" stroke-width="0.8"/>
<line x1="318.90" y1="463.50" x2="324.30" y2="463.50" stroke="#222" stroke-width="0.8"/>
<line x1="335.40" y1="473.00" x2="335.40" y2="469.50" stroke="#222" stroke-width="0.8"/>
<line x1="332.70" y1="469.50" x2="338.10" y2="469.50" stroke="#222" stroke-width="0.8"/>
<line x1="373.75" y1="515.50" x2="373.75" y2="517.50" stroke="#333" stroke-width="0.8"/>
<text x="373.75" y="527.0" font-size="6.3" text-anchor="middle" fill="#222" stroke="#555" stroke-width="0.18">BRCA2</text>
<rect x="362.65" y="364.25" width="8.40" height="151.25" fill="#000000" stroke="#111" stroke-width="0.6"/>
<rect x="376.45" y="396.25" width="8.40" height="119.25" fill="#b0b0b0" stroke="#111" stroke-width="0.6"/>
<line x1="366.85" y1="364.25" x2="366.85" y2="358.25" stroke="#222" stroke-width="0.8"/>
<line x1="364.15" y1="358.25" x2="369.55" y2="358.25" stroke="#222" stroke-width="0.8"/>
<line x1="380.65" y1="396.25" x2="380.65" y2="388.00" stroke="#222" stroke-width="0.8"/>
<line x1="377.95" y1="388.00" x2="383.35" y2="388.00" stroke="#222" stroke-width="0.8"/>
<line x1="418.50" y1="515.50" x2="418.50" y2="517.50" stroke="#333" stroke-width="0.8"/>
<text x="418.5" y="527.0" font-size="6.3" text-anchor="middle" fill="#222" stroke="#555" stroke-width="0.18">FANCD2</text>
<rect x="407.40" y="472.50" width="8.40" height="43.00" fill="#000000" stroke="#111" stroke-width="0.6"/>
<rect x="421.20" y="478.25" width="8.40" height="37.25" fill="#b0b0b0" stroke="#111" stroke-width="0.6"/>
<line x1="411.60" y1="472.50" x2="411.60" y2="464.50" stroke="#222" stroke-width="0.8"/>
<line x1="408.90" y1="464.50" x2="414.30" y2="464.50" stroke="#222" stroke-width="0.8"/>
<line x1="425.40" y1="478.25" x2="425.40" y2="471.75" stroke="#222" stroke-width="0.8"/>
<line x1="422.70" y1="471.75" x2="428.10" y2="471.75" stroke="#222" stroke-width="0.8"/>
<line x1="463.50" y1="515.50" x2="463.50" y2="517.50" stroke="#333" stroke-width="0.8"/>
<text x="463.5" y="527.0" font-size="6.3" text-anchor="middle" fill="#222" stroke="#555" stroke-width="0.18">RAD51</text>
<rect x="452.40" y="477.00" width="8.40" height="38.50" fill="#000000" stroke="#111" stroke-width="0.6"/>
<rect x="466.20" y="490.00" width="8.40" height="25.50" fill="#b0b0b0" stroke="#111" stroke-width="0.6"/>
<line x1="456.60" y1="477.00" x2="456.60" y2="468.75" stroke="#222" stroke-width="0.8"/>
<line x1="453.90" y1="468.75" x2="459.30" y2="468.75" stroke="#222" stroke-width="0.8"/>
<line x1="470.40" y1="490.00" x2="470.40" y2="485.50" stroke="#222" stroke-width="0.8"/>
<line x1="467.70" y1="485.50" x2="473.10" y2="485.50" stroke="#222" stroke-width="0.8"/>
<rect x="408.75" y="355.5" width="109.5" height="24.5" fill="#fff" stroke="#333" stroke-width="0.9"/>
<rect x="413.25" y="361.55" width="15.50" height="4.40" fill="#000000" stroke="#111" stroke-width="0.6"/>
<text x="431.75" y="365.95" font-size="6.3" text-anchor="start" fill="#222" stroke="#555" stroke-width="0.18">CNT</text>
<rect x="413.25" y="369.80" width="15.50" height="4.40" fill="#b0b0b0" stroke="#111" stroke-width="0.6"/>
<text x="431.75" y="374.2" font-size="6.3" text-anchor="start" fill="#222" stroke="#555" stroke-width="0.18">NFKB inhibitor (SN50) 10 uM</text>
<text x="268.3" y="434" font-size="7.6" text-anchor="middle" fill="#222" transform="rotate(-90 268.3 434)" stroke="#444" stroke-width="0.32">Ratio/GAPDH</text>
</svg>
</body></html>
